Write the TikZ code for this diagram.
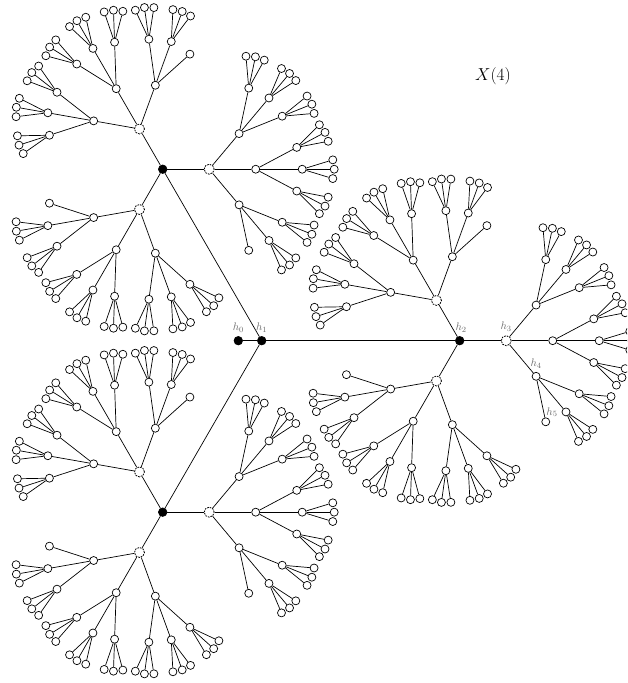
\documentclass[tikz,border=0pt]{standalone}
\usepackage{amsmath}
\usetikzlibrary{calc,positioning}
\definecolor{labgray}{RGB}{105, 105, 105}
\tikzset{
    vtx/.style  = {circle, draw, fill=white, inner sep=0pt, minimum size=8pt, line width=0.7pt},
    hub/.style  = {vtx, fill=black, minimum size=8.5pt},
    ring/.style = {vtx, line width=0.8pt, dash pattern=on 1.7pt off 1pt, minimum size=10pt},
    edge/.style = {line width=0.7pt},
    hlab/.style = {text=labgray, font=\fontsize{11}{13}\selectfont, inner sep=0.5pt}
}
\begin{document}
\begin{tikzpicture}[x=1pt, y=1pt]
            \useasboundingbox (0,0) rectangle (627,683);
            \clip (0,0) rectangle (627,683);
            \node[hub] (h1) at (261.7, 342.3) {};
            \node[hub] (h0) at (238.3, 342.3) {};
            \draw[edge] (h0) -- (h1);
            % three long branches, then spreads of 120, 50, 28 and 17 degrees
            \foreach \i in {1,2,3} {
                \pgfmathsetmacro\ai{120*(\i-2)}
                \node[hub] (b-\i) at ($(h1)+(\ai:198)$) {};
                \draw[edge] (h1) -- (b-\i);
                \foreach \j in {1,2,3} {
                    \pgfmathsetmacro\aj{\ai+120*(\j-2)}
                    \node[ring] (d-\i-\j) at ($(b-\i)+(\aj:46.5)$) {};
                    \draw[edge] (b-\i) -- (d-\i-\j);
                    \foreach \k in {1,2,3} {
                        \pgfmathsetmacro\ak{\aj+50*(\k-2)}
                        \node[vtx] (w-\i-\j-\k) at ($(d-\i-\j)+(\ak:46.5)$) {};
                        \draw[edge] (d-\i-\j) -- (w-\i-\j-\k);
                        \foreach \l in {1,2,3} {
                            \pgfmathsetmacro\al{\ak+28*(\l-2)}
                            \node[vtx] (t-\i-\j-\k-\l) at ($(w-\i-\j-\k)+(\al:46.5)$) {};
                            \draw[edge] (w-\i-\j-\k) -- (t-\i-\j-\k-\l);
                            \pgfmathtruncatemacro\lone{(\k==1)*(\l==1)}
                            \ifnum\lone=0
                                \foreach \m in {1,2,3} {
                                    \pgfmathsetmacro\am{\al+17*(\m-2)}
                                    \node[vtx] (x-\i-\j-\k-\l-\m) at ($(t-\i-\j-\k-\l)+(\am:32)$) {};
                                    \draw[edge] (t-\i-\j-\k-\l) -- (x-\i-\j-\k-\l-\m);
                                }
                            \fi
                        }
                    }
                }
            }
            \node[hlab, above=3pt of h0]                       (lab0) {$h_0$};
            \node[hlab, above=3pt of h1]                       (lab1) {$h_1$};
            \node[hlab, above=3pt of b-2, xshift=1.5pt]        (lab2) {$h_2$};
            \node[hlab, above=3pt of d-2-2]                    (lab3) {$h_3$};
            \node[hlab, above=3pt of w-2-2-1]                  (lab4) {$h_4$};
            \node[hlab, anchor=south west] (lab5) at (t-2-2-1-1.north) {$h_5$};
            \node[font=\fontsize{18}{20}\selectfont] (title) at (493, 607) {$X(4)$};
            \end{tikzpicture}
\end{document}
